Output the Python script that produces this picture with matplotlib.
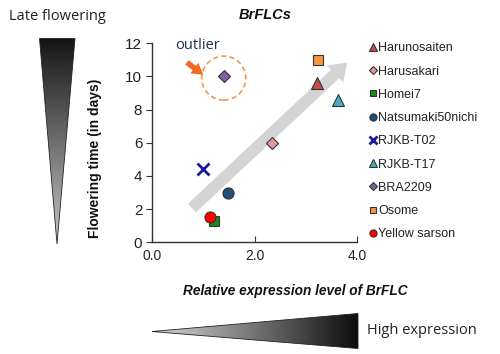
import numpy as np
import matplotlib
matplotlib.use("Agg")
import matplotlib.pyplot as plt
from matplotlib.patches import Polygon, Ellipse, FancyArrowPatch

# ---- data ----
cultivars = ["Harunosaiten", "Harusakari", "Homei7", "Natsumaki50nichi", "RJKB-T02",
             "RJKB-T17", "BRA2209", "Osome", "Yellow sarson"]
expression = [3.21, 2.35, 1.21, 1.48, 0.99, 3.62, 1.40, 3.23, 1.13]
flowering_days = [9.6, 6.0, 1.3, 3.0, 4.4, 8.6, 10.0, 11.0, 1.5]
markers = ["^", "D", "s", "o", "x", "^", "D", "s", "o"]
face_colors = ["#c0504d", "#e39a9a", "#1a8a1a", "#1f4e79", "#1a1a9a",
               "#4bacc6", "#8064a2", "#f79646", "#ff0000"]
marker_sizes = [8, 6, 7, 8, 8, 8, 6, 7, 8]
x_ticks = [0.0, 2.0, 4.0]
y_ticks = [0, 2, 4, 6, 8, 10, 12]

plt.rcParams['font.family'] = ['Liberation Sans', 'DejaVu Sans']

W, H = 500, 354
fig = plt.figure(figsize=(W / 100, H / 100), dpi=100)

# overlay axes in pixel coords for decorations
ov = fig.add_axes([0, 0, 1, 1], zorder=0)
ov.set_xlim(0, W)
ov.set_ylim(H, 0)
ov.axis("off")

# left vertical gradient triangle (dark top -> light bottom)
grad_v = np.linspace(0.08, 0.78, 256).reshape(-1, 1)
im1 = ov.imshow(grad_v, cmap="gray", vmin=0, vmax=1, extent=(39, 76, 244, 38),
                aspect="auto", zorder=1)
tri1 = Polygon([(39.5, 38.5), (75, 38.5), (57, 244)], closed=True,
               facecolor="none", edgecolor="#222222", lw=0.6, zorder=2)
ov.add_patch(tri1)
im1.set_clip_path(tri1)

# bottom horizontal gradient triangle (light left -> dark right)
grad_h = np.linspace(0.85, 0.05, 256).reshape(1, -1)
im2 = ov.imshow(grad_h, cmap="gray", vmin=0, vmax=1, extent=(152, 358, 349, 313),
                aspect="auto", zorder=1)
tri2 = Polygon([(152, 331.5), (358, 313.5), (358, 348.5)], closed=True,
               facecolor="none", edgecolor="#222222", lw=0.6, zorder=2)
ov.add_patch(tri2)
im2.set_clip_path(tri2)

ov.text(9, 16, "Late flowering", fontsize=10.5, family=["Open Sans", "DejaVu Sans"],
        color="#222222", ha="left", va="center")
ov.text(367, 331, "High expression", fontsize=10.5, family=["Open Sans", "DejaVu Sans"],
        color="#222222", ha="left", va="center")

# main axes
ax = fig.add_axes([152 / W, 1 - 242.3 / H, 205 / W, 199 / H], zorder=2)
ax.patch.set_alpha(0)
ax.set_xlim(0, 4)
ax.set_ylim(0, 12)
for s in ["top", "right"]:
    ax.spines[s].set_visible(False)
for s in ["left", "bottom"]:
    ax.spines[s].set_color("#333333")
    ax.spines[s].set_linewidth(1.0)
ax.set_xticks(x_ticks)
ax.set_xticklabels([f"{v:.1f}" for v in x_ticks], fontsize=10, color="#222222")
ax.set_yticks(y_ticks)
ax.set_yticklabels([str(v) for v in y_ticks], fontsize=11, color="#222222")
ax.tick_params(axis="x", direction="in", length=4, pad=5, color="#333333")
ax.tick_params(axis="y", direction="out", length=4, pad=3, color="#333333")

# trend arrow
trend = FancyArrowPatch((0.74, 1.95), (3.85, 10.95),
                        arrowstyle="simple,head_length=1.2,head_width=1.7,tail_width=0.85",
                        mutation_scale=10, color="#d4d4d4", lw=0, zorder=1)
ax.add_patch(trend)

# points
handles = []
for name, xv, yv, m, c, ms in zip(cultivars, expression, flowering_days, markers,
                                   face_colors, marker_sizes):
    if m == "x":
        h, = ax.plot(xv, yv, linestyle="none", marker=m, ms=ms, mew=2, color=c,
                     label=name, zorder=3)
    else:
        h, = ax.plot(xv, yv, linestyle="none", marker=m, ms=ms, mfc=c, mec="#333333",
                     mew=0.8, label=name, zorder=3)
    handles.append(h)

# outlier annotation
bra = cultivars.index("BRA2209")
ell = Ellipse((expression[bra], flowering_days[bra] - 0.1), width=0.86, height=2.65,
              facecolor="none", edgecolor="#f79646", lw=1.2, linestyle=(0, (3, 2)),
              zorder=2)
ax.add_patch(ell)
ax.annotate("", xy=(1.0, 10.1), xytext=(0.68, 10.85),
            arrowprops=dict(arrowstyle="simple,head_length=0.8,head_width=0.95,tail_width=0.4",
                            color="#f26a22", mutation_scale=10, lw=0,
                            shrinkA=0, shrinkB=0))
ax.text(0.89, 11.85, "outlier", fontsize=10.5, family=["Open Sans", "DejaVu Sans"],
        color="#1f2f4f", ha="center", va="center")

ax.set_ylabel("Flowering time (in days)", fontsize=10, fontweight="bold",
              color="#111111", labelpad=6)
ax.yaxis.set_label_coords(-0.245, 0.42)
ax.set_xlabel("Relative expression level of BrFLC", fontsize=9.8, fontweight="bold",
              style="italic", color="#111111")
ax.xaxis.set_label_coords(0.7, -0.21)

fig.text(265 / W, 1 - 15 / H, "BrFLCs", fontsize=10.5, fontweight="bold", style="italic",
         ha="center", va="center", color="#111111")

leg = ax.legend(handles=handles, loc="upper left", bbox_to_anchor=(1.04, 1.03),
                frameon=False, fontsize=9, markerscale=0.65, handlelength=0.5,
                handletextpad=0.15, labelspacing=0.9, borderaxespad=0)
for t in leg.get_texts():
    t.set_color("#222222")

fig.savefig("out.png", dpi=100)
